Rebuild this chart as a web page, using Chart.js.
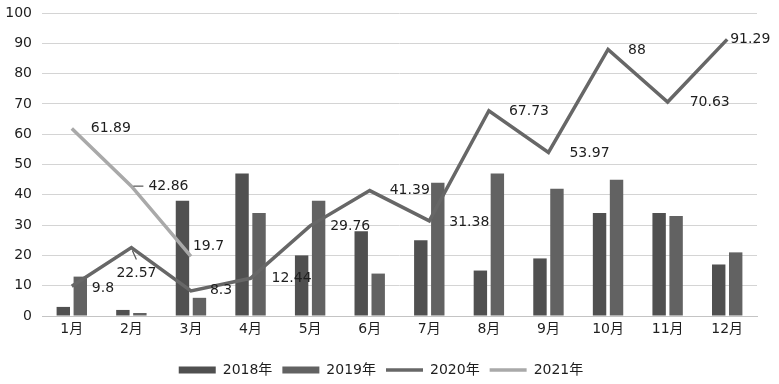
<!DOCTYPE html>
<html>
<head>
<meta charset="utf-8">
<script src="https://cdn.jsdelivr.net/npm/chart.js@4.4.1/dist/chart.umd.min.js"></script>
<style>
  html, body { margin: 0; padding: 0; background: #fff; }
  #wrap { width: 779px; height: 384px; }
</style>
</head>
<body>
<div id="wrap"><canvas id="chart" width="779" height="384"></canvas></div>
<script>
const months = ['1月', '2月', '3月', '4月', '5月', '6月', '7月', '8月', '9月', '10月', '11月', '12月'];
const seriesNames = ['2018年', '2019年', '2020年', '2021年'];

const values2018 = [3, 2, 38, 47, 20, 28, 25, 15, 19, 34, 34, 17];
const values2019 = [13, 1, 6, 34, 38, 14, 44, 47, 42, 45, 33, 21];
const values2020 = [9.8, 22.57, 8.3, 12.44, 29.76, 41.39, 31.38, 67.73, 53.97, 88, 70.63, 91.29];
const values2021 = [61.89, 42.86, 19.7, null, null, null, null, null, null, null, null, null];

const yTicks = [0, 10, 20, 30, 40, 50, 60, 70, 80, 90, 100];

const FONT = '"DejaVu Sans", Verdana, "Noto Sans CJK SC", sans-serif';

// where each value label sits relative to its point: [dx, dy], plus an optional leader line
const labelPlacement = {
  2: [[20, 2], [-15, 26, 'down'], [19, 0], [21, 0], [20, 1], [20, 0], [20, 1], [20, 1], [21, 1], [20, 1], [22, 0], [3, 0]],
  3: [[19, 0], [17, 0, 'left'], [2, -10]]
};

const valueLabels = {
  id: 'valueLabels',
  afterDatasetsDraw(chart) {
    const ctx = chart.ctx;
    ctx.save();
    ctx.font = '14px ' + FONT;
    ctx.fillStyle = '#1e1e1e';
    ctx.textBaseline = 'middle';
    ctx.textAlign = 'left';
    Object.keys(labelPlacement).forEach(function(dsIndex) {
      const meta = chart.getDatasetMeta(+dsIndex);
      const data = chart.data.datasets[dsIndex].data;
      labelPlacement[dsIndex].forEach(function(place, i) {
        const pt = meta.data[i];
        if (!pt || data[i] == null) return;
        const x = pt.x + place[0];
        const y = pt.y + place[1];
        if (place[2] === 'left') {
          ctx.strokeStyle = '#555';
          ctx.lineWidth = 1.2;
          ctx.beginPath();
          ctx.moveTo(pt.x + 2, pt.y);
          ctx.lineTo(x - 5, pt.y);
          ctx.stroke();
        } else if (place[2] === 'down') {
          ctx.strokeStyle = '#555';
          ctx.lineWidth = 1.2;
          ctx.beginPath();
          ctx.moveTo(pt.x + 1, pt.y + 3);
          ctx.lineTo(pt.x + 5, pt.y + 12);
          ctx.stroke();
        }
        ctx.fillText(String(data[i]), x, y);
      });
    });
    ctx.restore();
  }
};

new Chart(document.getElementById('chart'), {
  type: 'bar',
  data: {
    labels: months,
    datasets: [
      {
        label: seriesNames[0],
        data: values2018,
        backgroundColor: '#505050',
        pointStyle: 'rect',
        order: 1,
        barPercentage: 0.79,
        categoryPercentage: 0.57
      },
      {
        label: seriesNames[1],
        data: values2019,
        backgroundColor: '#626262',
        pointStyle: 'rect',
        order: 1,
        barPercentage: 0.79,
        categoryPercentage: 0.57
      },
      {
        type: 'line',
        label: seriesNames[2],
        data: values2020,
        borderColor: '#676767',
        backgroundColor: '#676767',
        borderWidth: 3.5,
        pointRadius: 0,
        pointStyle: 'line',
        tension: 0,
        order: 0
      },
      {
        type: 'line',
        label: seriesNames[3],
        data: values2021,
        borderColor: '#a9a9a9',
        backgroundColor: '#a9a9a9',
        borderWidth: 3.5,
        pointRadius: 0,
        pointStyle: 'line',
        tension: 0,
        spanGaps: false,
        order: 0
      }
    ]
  },
  options: {
    responsive: false,
    animation: false,
    layout: {
      padding: { left: 5, right: 22, top: 13, bottom: 0 }
    },
    scales: {
      x: {
        grid: { display: false, drawTicks: false },
        border: { display: true, color: '#c4c4c4', width: 1 },
        ticks: { color: '#1e1e1e', padding: 5, font: { size: 14, family: FONT } },
        afterFit(scale) { scale.height = 37; }
      },
      y: {
        min: 0,
        max: 100,
        afterBuildTicks(scale) { scale.ticks = yTicks.map(v => ({ value: v })); },
        afterFit(scale) {
          scale.width = 37;
          scale.paddingTop = 9;
          scale.paddingBottom = 9;
        },
        grid: { color: '#d4d4d4', lineWidth: 1, drawTicks: false },
        border: { display: false },
        ticks: { color: '#1e1e1e', padding: 10, font: { size: 14, family: FONT } }
      }
    },
    plugins: {
      tooltip: { enabled: false },
      legend: {
        position: 'bottom',
        maxHeight: 31,
        labels: {
          usePointStyle: true,
          pointStyleWidth: 37,
          boxHeight: 7,
          padding: 10,
          color: '#1e1e1e',
          font: { size: 14, family: FONT },
          sort: (a, b) => a.datasetIndex - b.datasetIndex
        }
      }
    }
  },
  plugins: [valueLabels]
});
</script>
</body>
</html>
